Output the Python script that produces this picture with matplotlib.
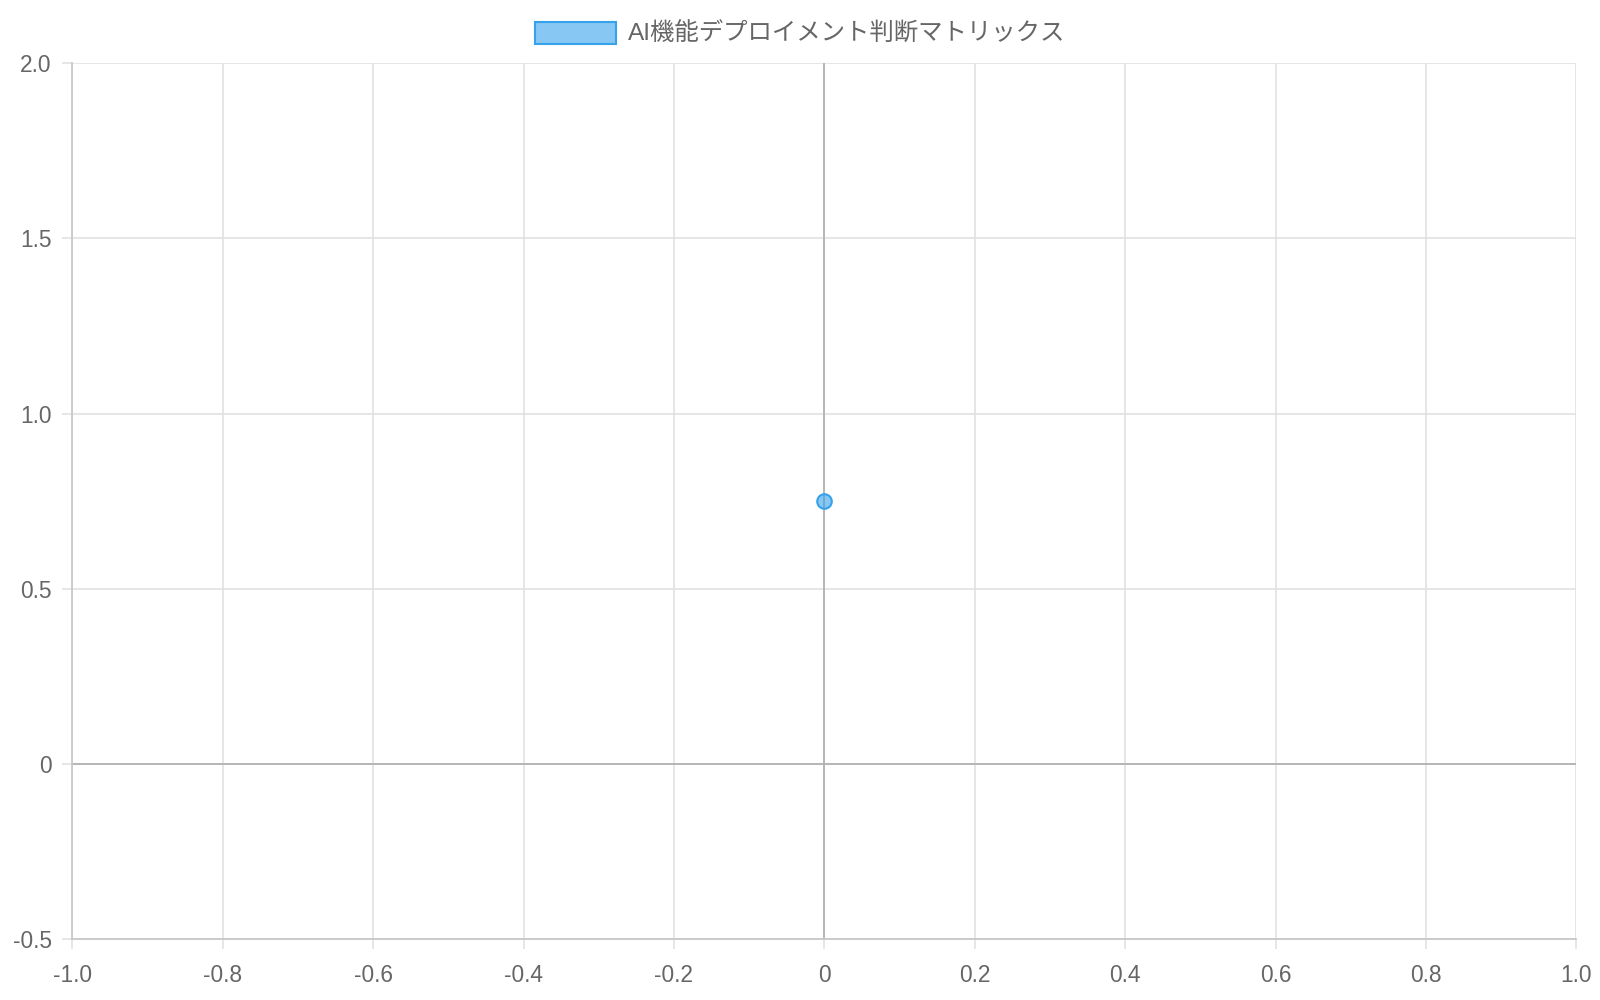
import matplotlib
matplotlib.use("Agg")
import matplotlib.pyplot as plt
from matplotlib.patches import Patch

plt.rcParams['font.family'] = ['Liberation Sans', 'Noto Sans CJK JP', 'DejaVu Sans']

series_label = "AI機能デプロイメント判断マトリックス"
x_values = [0.0]
y_values = [0.75]
x_ticks = [-1.0, -0.8, -0.6, -0.4, -0.2, 0.0, 0.2, 0.4, 0.6, 0.8, 1.0]
x_tick_labels = ["-1.0", "-0.8", "-0.6", "-0.4", "-0.2", "0", "0.2", "0.4", "0.6", "0.8", "1.0"]
y_ticks = [-0.5, 0.0, 0.5, 1.0, 1.5, 2.0]
y_tick_labels = ["-0.5", "0", "0.5", "1.0", "1.5", "2.0"]

fill = (54/255, 162/255, 235/255, 0.6)
edge = "#36a2eb"
grid_c = "#e1e1e1"
zero_c = "#b3b3b3"
text_c = "#666666"

fig = plt.figure(figsize=(16, 10), dpi=100)
ax = fig.add_axes([0.04525, 0.061, 0.9400, 0.8757])
ax.set_xlim(-1.0, 1.0)
ax.set_ylim(-0.5, 2.0)
ax.set_xticks(x_ticks)
ax.set_xticklabels(x_tick_labels)
ax.set_yticks(y_ticks)
ax.set_yticklabels(y_tick_labels)
ax.grid(True, color=grid_c, linewidth=1.2, zorder=0)
ax.axvline(0, color=zero_c, linewidth=1.3, zorder=1)
ax.axhline(0, color=zero_c, linewidth=1.3, zorder=1)
for s in ["top", "right"]:
    ax.spines[s].set_visible(False)
for s in ["left", "bottom"]:
    ax.spines[s].set_color("#c8c8c8")
    ax.spines[s].set_linewidth(1.3)
ax.tick_params(axis="both", colors=grid_c, length=7, width=1.2, labelcolor=text_c, labelsize=16.4)
ax.tick_params(axis="x", pad=11)
ax.tick_params(axis="y", pad=8)
ax.set_axisbelow(True)

ax.scatter(x_values, y_values, s=110, facecolor=fill, edgecolor=edge, linewidths=1.5, zorder=3)

handle = Patch(facecolor=fill, edgecolor=edge, linewidth=1.5)
fig.legend([handle], [series_label], loc="center", bbox_to_anchor=(0.5, 0.966),
           frameon=False, fontsize=17.6, labelcolor=text_c,
           handlelength=3.3, handleheight=1.0, handletextpad=0.5)

fig.savefig("out.png", dpi=100, facecolor="white")
